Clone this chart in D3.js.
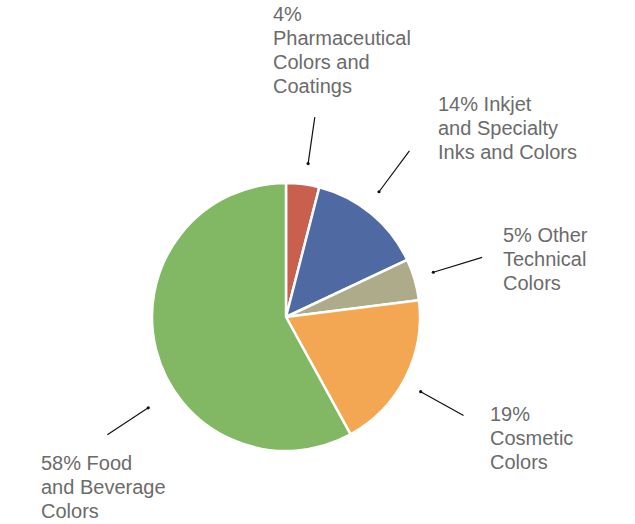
<!DOCTYPE html>
<html>
<head>
<meta charset="utf-8">
<script src="https://cdn.jsdelivr.net/npm/d3@7"></script>
<style>
  body { margin: 0; background: #fff; }
  svg text { font-family: "Liberation Sans", Arial, sans-serif; font-size: 20px; fill: #6b6b6b; }
</style>
</head>
<body>
<svg id="chart" width="635" height="524"></svg>
<script>
// data
var categories = ['Pharmaceutical Colors and Coatings', 'Inkjet and Specialty Inks and Colors',
                  'Other Technical Colors', 'Cosmetic Colors', 'Food and Beverage Colors'];
var shares = [4, 14, 5, 19, 58];
var labelLines = [
  ['4%', 'Pharmaceutical', 'Colors and', 'Coatings'],
  ['14% Inkjet', 'and Specialty', 'Inks and Colors'],
  ['5% Other', 'Technical', 'Colors'],
  ['19%', 'Cosmetic', 'Colors'],
  ['58% Food', 'and Beverage', 'Colors']
];
var colors = ['#c9604e', '#4f6aa3', '#adab89', '#f4a753', '#82b764'];

// layout bits for the labels (text anchor + leader line tweak in degrees)
var labelPos = [
  {x: 273, y: 21, nudge: 1, r0: 155, r1: 202},
  {x: 438, y: 111, nudge: -3, r0: 156, r1: 207},
  {x: 503, y: 242, nudge: -0.7, r0: 154, r1: 205},
  {x: 490, y: 421, nudge: 2, r0: 154, r1: 203},
  {x: 41, y: 470, nudge: -19, r0: 165, r1: 214}
];

var svg = d3.select('#chart'),
    cx = 286, cy = 317, radius = 134;

var pie = d3.pie().sort(null).value(function(d) { return d; });
var arc = d3.arc().innerRadius(0).outerRadius(radius);
var arcs = pie(shares);

var g = svg.append('g').attr('transform', 'translate(' + cx + ',' + cy + ')');

g.selectAll('path.slice')
  .data(arcs)
  .enter().append('path')
    .attr('class', 'slice')
    .attr('d', arc)
    .attr('fill', function(d, i) { return colors[i]; })
    .attr('stroke', '#fff')
    .attr('stroke-width', 2.5)
    .attr('stroke-linejoin', 'round');

// leader lines
arcs.forEach(function(d, i) {
  var p = labelPos[i];
  var a = (d.startAngle + d.endAngle) / 2 + p.nudge * Math.PI / 180;
  var inner = d3.pointRadial(a, p.r0),
      outer = d3.pointRadial(a, p.r1);
  g.append('line')
    .attr('x1', inner[0]).attr('y1', inner[1])
    .attr('x2', outer[0]).attr('y2', outer[1])
    .attr('stroke', '#111').attr('stroke-width', 1.2);
  g.append('circle')
    .attr('cx', inner[0]).attr('cy', inner[1])
    .attr('r', 1.6).attr('fill', '#111');
});

// labels
labelLines.forEach(function(lines, i) {
  var t = svg.append('text')
    .attr('x', labelPos[i].x)
    .attr('y', labelPos[i].y);
  lines.forEach(function(s, j) {
    t.append('tspan')
      .attr('x', labelPos[i].x)
      .attr('y', labelPos[i].y + j * 24)
      .text(s);
  });
});
</script>
</body>
</html>
